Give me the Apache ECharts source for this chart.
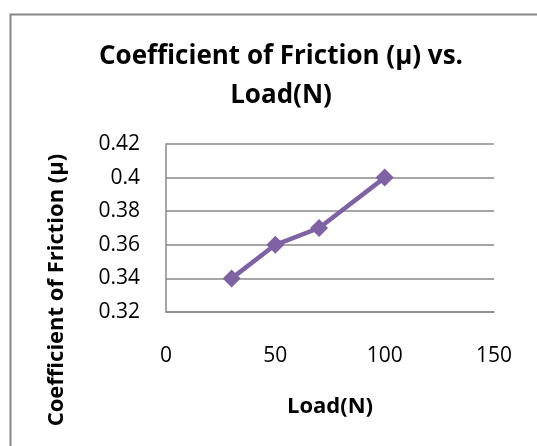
<!DOCTYPE html>
<html><head><meta charset="utf-8">
<script src="https://cdn.jsdelivr.net/npm/echarts@6/dist/echarts.min.js"></script>
<style>html,body{margin:0;padding:0;background:#fff}#c{width:537px;height:446px}</style>
</head><body><div id="c"></div>
<script>
const titleText = 'Coefficient of Friction (μ) vs.\nLoad(N)';
const xName = 'Load(N)';
const yName = 'Coefficient of Friction (μ)';
const loads = [30, 50, 70, 100];
const mu = [0.34, 0.36, 0.37, 0.40];
const xTicks = [0, 50, 100, 150];
const yTicks = [0.32, 0.34, 0.36, 0.38, 0.40, 0.42];

const FONT = 'Open Sans';
const chart = echarts.init(document.getElementById('c'));
chart.setOption({
  animation: false,
  backgroundColor: '#fff',
  graphic: [{type:'rect', left: 8, top: 12, shape:{width: 600, height: 500}, style:{fill:'none', stroke:'#888', lineWidth:2}, z:-1}],
  title: {text: titleText, left: 276, textAlign: 'center', top: 32, textStyle:{fontFamily: FONT, fontWeight:'bold', fontSize: 26, color:'#000', lineHeight: 39}},
  grid: {left: 166, right: 43, top: 144, bottom: 134},
  xAxis: {type:'value', min: xTicks[0], max: xTicks[xTicks.length-1], interval: 50,
    name: xName, nameLocation:'middle', nameGap: 84,
    nameTextStyle:{fontFamily: FONT, fontWeight:'bold', fontSize: 22, color:'#000'},
    axisLine:{show:true, lineStyle:{color:'#888', width:1.5}}, axisTick:{show:false},
    splitLine:{show:false},
    axisLabel:{margin: 34, fontFamily: FONT, fontSize: 21, color:'#000'}},
  yAxis: {type:'value', min: yTicks[0], max: yTicks[yTicks.length-1], interval: 0.02,
    name: yName, nameLocation:'middle', nameGap: 98,
    nameTextStyle:{fontFamily: FONT, fontWeight:'bold', fontSize: 22, color:'#000', padding:[0,124,0,0]},
    axisLine:{show:true, lineStyle:{color:'#888', width:1.5}}, axisTick:{show:false},
    splitLine:{show:true, lineStyle:{color:'#888', width:1.5}},
    axisLabel:{margin: 26, fontFamily: FONT, fontSize: 21, color:'#000', formatter: v => String(+v.toFixed(2))}},
  series: [{type:'line', data: loads.map((x,i)=>[x, mu[i]]), symbol:'diamond', symbolSize: 18,
    lineStyle:{color:'#7f62a3', width:4.5}, itemStyle:{color:'#7f62a3'}}]
});
</script></body></html>
